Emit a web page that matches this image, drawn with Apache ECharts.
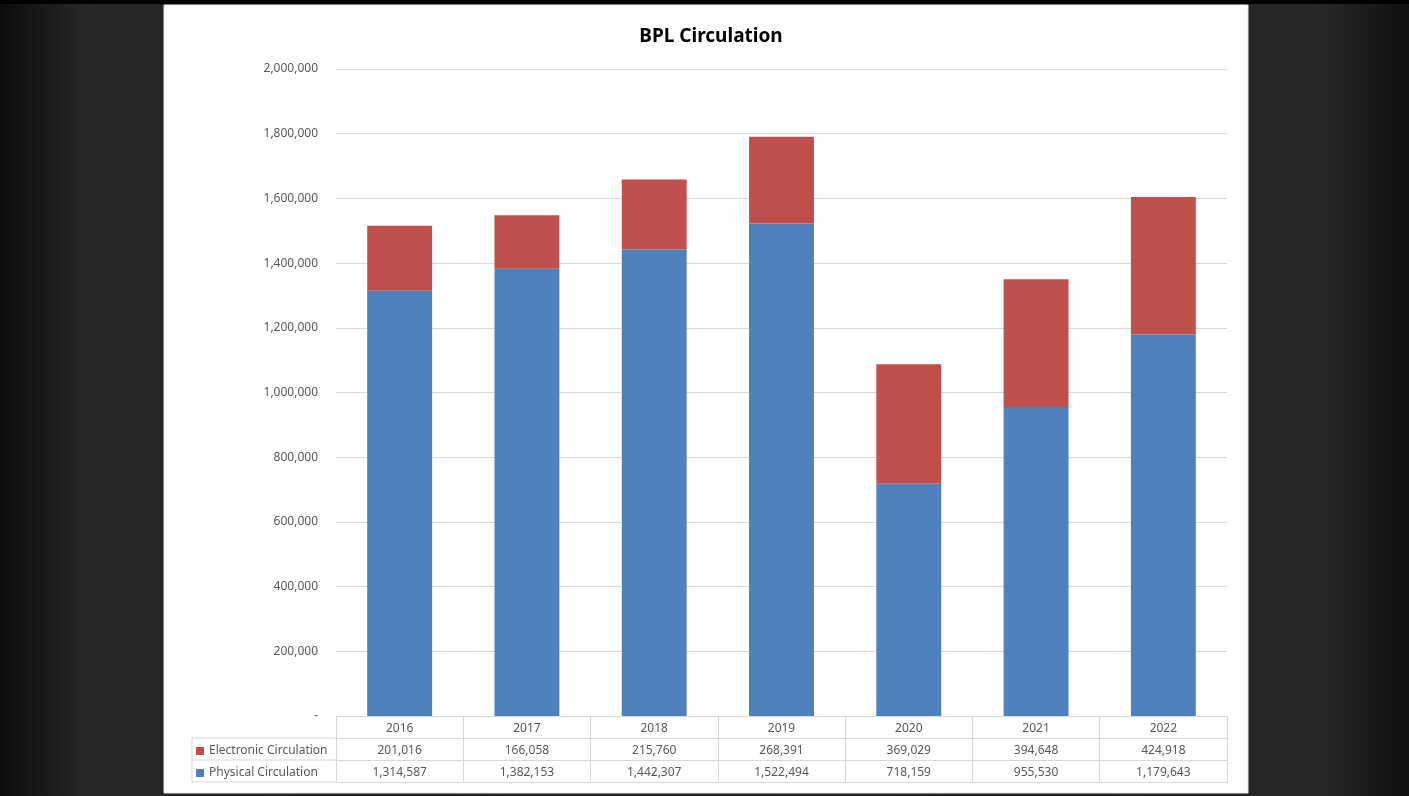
<!DOCTYPE html>
<html><head><meta charset="utf-8">
<script src="https://cdn.jsdelivr.net/npm/echarts@6/dist/echarts.min.js"></script>
<style>html,body{margin:0;padding:0;background:#1b1b1b}#c{width:1409px;height:796px}</style>
</head><body><div id="c"></div>
<script>
const years = ['2016','2017','2018','2019','2020','2021','2022'];
const electronic = [201016,166058,215760,268391,369029,394648,424918];
const physical = [1314587,1382153,1442307,1522494,718159,955530,1179643];
const yTicks = {min:0, max:2000000, interval:200000};

const fmt = v => v === 0 ? '-' : v.toLocaleString('en-US');
const FONT = 'Noto Sans';
const LINE = '#d9d9d9';
const G = {left:336, right:1227, top:69, bottom:716};
const ROW = 22;

const chart = echarts.init(document.getElementById('c'), null, {renderer:'canvas'});
const hidden = off => ({type:'category', data:years, gridIndex:0, position:'bottom', offset:off,
  axisLine:{show:true, lineStyle:{color:LINE}}, axisTick:{show:false}, axisLabel:{show:false}, splitLine:{show:false}});
chart.setOption({
  backgroundColor:{type:'linear', x:0, y:0, x2:1, y2:0, colorStops:[
    {offset:0, color:'#0c0c0c'}, {offset:0.06, color:'#262626'}, {offset:0.5, color:'#222'},
    {offset:0.94, color:'#262626'}, {offset:1, color:'#101010'}]},
  animation:false,
  title:{text:'BPL Circulation', left:706, top:22, textAlign:'center',
    textStyle:{fontFamily:FONT, fontSize:19, fontWeight:'bold', color:'#000'}},
  grid:{left:G.left, right:1409-G.right, top:G.top, bottom:796-G.bottom, containLabel:false},
  legend:{orient:'vertical', left:196, top:G.bottom+ROW+2, padding:0, itemGap:0, itemWidth:8, itemHeight:8,
    icon:'rect', data:['Electronic Circulation','Physical Circulation'],
    textStyle:{fontFamily:FONT, fontSize:12, color:'#595959', lineHeight:ROW}},
  xAxis:[
    {type:'category', data:years, position:'bottom',
      axisLine:{show:true, lineStyle:{color:LINE}},
      axisTick:{show:true, length:ROW*3, interval:0, lineStyle:{color:LINE}},
      axisLabel:{margin:2, interval:0, fontFamily:FONT, fontSize:12, color:'#595959', lineHeight:ROW, verticalAlign:'top',
        formatter:(v, i) => v + '\n' + electronic[i].toLocaleString('en-US') + '\n' + physical[i].toLocaleString('en-US')}},
    hidden(ROW), hidden(ROW*2), hidden(ROW*3)
  ],
  yAxis:{type:'value', min:yTicks.min, max:yTicks.max, interval:yTicks.interval,
    axisLine:{show:false}, axisTick:{show:false},
    axisLabel:{formatter:fmt, fontFamily:FONT, fontSize:12, color:'#595959', margin:18},
    splitLine:{lineStyle:{color:LINE}}},
  series:[
    {name:'Physical Circulation', type:'bar', stack:'t', data:physical, barWidth:'51%', itemStyle:{color:'#4F81BD'}},
    {name:'Electronic Circulation', type:'bar', stack:'t', data:electronic, barWidth:'51%', itemStyle:{color:'#C0504D'}}
  ],
  graphic:[
    {type:'rect', z:-10, shape:{x:164, y:5, width:1084, height:788}, style:{fill:'#ffffff', stroke:'#e6e6e6', lineWidth:1}},
    {type:'rect', z:-20, shape:{x:0, y:0, width:1409, height:4}, style:{fill:'#000'}},
    {type:'line', shape:{x1:192, y1:G.bottom+ROW, x2:G.left, y2:G.bottom+ROW}, style:{stroke:LINE, lineWidth:1}},
    {type:'line', shape:{x1:192, y1:G.bottom+ROW*2, x2:G.left, y2:G.bottom+ROW*2}, style:{stroke:LINE, lineWidth:1}},
    {type:'line', shape:{x1:192, y1:G.bottom+ROW*3, x2:G.left, y2:G.bottom+ROW*3}, style:{stroke:LINE, lineWidth:1}},
    {type:'line', shape:{x1:192, y1:G.bottom+ROW, x2:192, y2:G.bottom+ROW*3}, style:{stroke:LINE, lineWidth:1}}
  ]
});
</script></body></html>
